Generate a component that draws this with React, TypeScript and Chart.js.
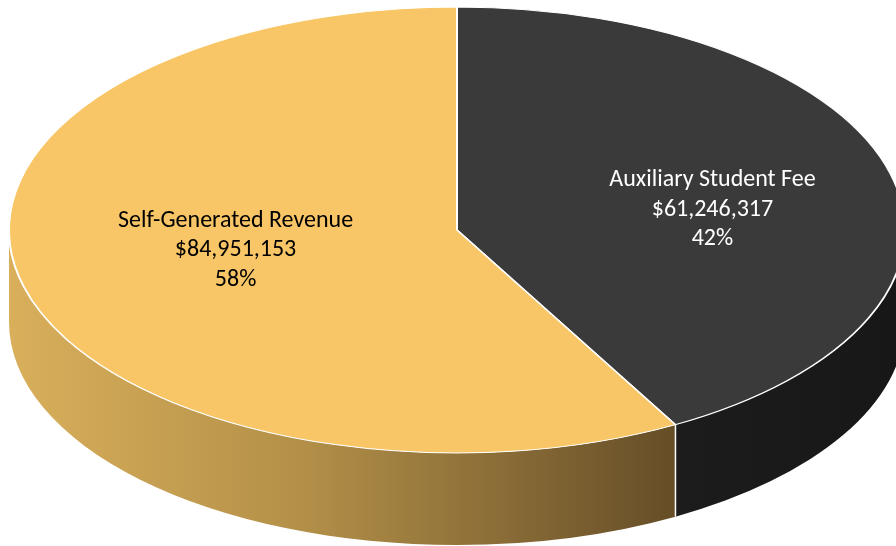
import React, { useEffect, useRef } from 'react';
import { Chart, registerables } from 'chart.js';

Chart.register(...registerables);

const categories = ['Auxiliary Student Fee', 'Self-Generated Revenue'];
const amounts = [61246317, 84951153];

// styling, per slice (same order as categories)
const TOP_COLORS = ['#3A3A3A', '#F8C666'];
const SIDE_STOPS = [
    ['#1C1C1C', '#1A1A1A', '#171717'],
    ['#D9AF5B', '#B28F48', '#654D27'],
];
const TEXT_COLORS = ['#FFFFFF', '#000000'];

// where the tilted pie sits on the page
const CX = 457;
const CY = 230;
const RX = 448;
const RY = 223;
const DEPTH = 92;
const FONT = '24px Carlito, Calibri, Lato, sans-serif';
const LINE_H = 29.5;

const pie3d = {
    id: 'pie3d',
    beforeDatasetsDraw(chart: any) {
        const ctx = chart.ctx as CanvasRenderingContext2D;
        const arcs = chart.getDatasetMeta(0).data;
        if (!arcs.length) return;

        // side walls, only the front half (0..PI) is visible
        arcs.forEach((el: any, i: number) => {
            const a0 = Math.max(el.startAngle, 0);
            const a1 = Math.min(el.endAngle, Math.PI);
            if (a1 <= a0) return;
            const xs = [Math.cos(a0), Math.cos(a1)];
            const x0 = CX + RX * Math.min(...xs);
            const x1 = CX + RX * Math.max(...xs);
            const grad = ctx.createLinearGradient(x0, 0, x1, 0);
            const stops = SIDE_STOPS[i];
            grad.addColorStop(0, stops[0]);
            grad.addColorStop(0.45, stops[1]);
            grad.addColorStop(1, stops[2]);
            ctx.save();
            ctx.beginPath();
            ctx.ellipse(CX, CY, RX, RY, 0, a0, a1);
            ctx.ellipse(CX, CY + DEPTH, RX, RY, 0, a1, a0, true);
            ctx.closePath();
            ctx.fillStyle = grad;
            ctx.fill();
            ctx.restore();
        });

        // seams between slices on the wall
        ctx.save();
        ctx.strokeStyle = '#FFFFFF';
        ctx.lineWidth = 1.5;
        arcs.forEach((el: any) => {
            const a = el.startAngle;
            if (a > 0 && a < Math.PI) {
                const x = CX + RX * Math.cos(a);
                const y = CY + RY * Math.sin(a);
                ctx.beginPath();
                ctx.moveTo(x, y);
                ctx.lineTo(x, y + DEPTH);
                ctx.stroke();
            }
        });
        ctx.restore();

        // squash the round pie into the top face
        const first = arcs[0];
        const r = first.outerRadius;
        ctx.save();
        ctx.translate(CX, CY);
        ctx.scale(RX / r, RY / r);
        ctx.translate(-first.x, -first.y);
    },
    afterDatasetsDraw(chart: any) {
        const ctx = chart.ctx as CanvasRenderingContext2D;
        ctx.restore();

        const arcs = chart.getDatasetMeta(0).data;
        const total = amounts.reduce((a, b) => a + b, 0);
        ctx.save();
        ctx.font = FONT;
        ctx.textAlign = 'center';
        ctx.textBaseline = 'middle';
        arcs.forEach((el: any, i: number) => {
            const mid = (el.startAngle + el.endAngle) / 2;
            const lx = CX + Math.cos(mid) * 0.55 * RX + 17;
            const ly = CY + Math.sin(mid) * 0.36 * RY;
            const lines = [
                categories[i],
                '$' + amounts[i].toLocaleString('en-US'),
                Math.round((amounts[i] / total) * 100) + '%',
            ];
            ctx.fillStyle = TEXT_COLORS[i];
            lines.forEach((t, k) => ctx.fillText(t, lx, ly + (k - 1) * LINE_H));
        });
        ctx.restore();
    },
};

const App: React.FC = () => {
    const canvasRef = useRef<HTMLCanvasElement>(null);

    useEffect(() => {
        if (!canvasRef.current) return;
        const chart = new Chart(canvasRef.current, {
            type: 'pie',
            data: {
                labels: categories,
                datasets: [{
                    data: amounts,
                    backgroundColor: TOP_COLORS,
                    borderColor: '#FFFFFF',
                    borderWidth: 2,
                    clip: false,
                } as any],
            },
            options: {
                responsive: false,
                animation: false,
                devicePixelRatio: 1,
                layout: { padding: 0 },
                plugins: {
                    legend: { display: false },
                    tooltip: { enabled: false },
                },
            },
            plugins: [pie3d],
        });
        return () => chart.destroy();
    }, []);

    return (
        <div style={{ position: 'fixed', left: 0, top: 0, width: 896, height: 546, overflow: 'hidden', background: '#fff' }}>
            <canvas ref={canvasRef} width={896} height={896} style={{ display: 'block' }} />
        </div>
    );
};

export default App;
